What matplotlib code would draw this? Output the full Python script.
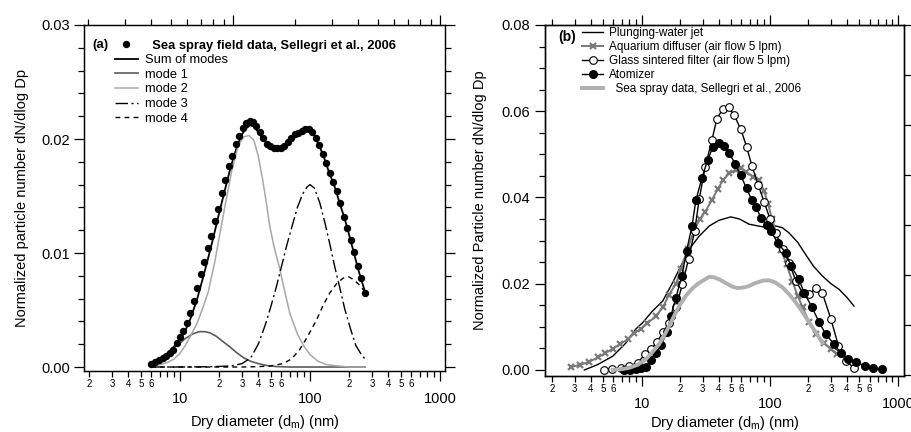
import numpy as np
import matplotlib
matplotlib.use("Agg")
import matplotlib.pyplot as plt
from matplotlib.ticker import FixedLocator, FuncFormatter, MultipleLocator, LogLocator, NullFormatter

plt.rcParams['font.family'] = ['Liberation Sans', 'DejaVu Sans']
plt.rcParams['mathtext.fontset'] = 'custom'
plt.rcParams['mathtext.rm'] = 'Liberation Sans'
plt.rcParams['mathtext.it'] = 'Liberation Sans:italic'

# ---- panel (a): field data and fitted modes ----
field_d = [5.98, 6.42, 6.89, 7.40, 7.80, 8.38, 8.84, 9.48, 10.0, 10.55,
           11.32, 11.94, 12.82, 13.51, 14.51, 15.30, 16.43, 17.32, 18.59, 19.60,
           21.04, 22.19, 23.82, 25.12, 26.97, 28.44, 30.52, 32.19, 34.56, 36.44,
           38.42, 41.25, 43.50, 46.70, 49.24, 52.86, 55.75, 59.84, 63.10, 67.74,
           71.43, 76.67, 80.85, 86.79, 91.53, 98.24, 103.6, 111.2, 117.3, 125.9,
           132.8, 142.5, 150.3, 161.4, 170.1, 182.6, 192.6, 206.8, 218.1, 234.0,
           246.8, 264.9]
field_v = [0.0003, 0.00045, 0.0006, 0.0008, 0.0010, 0.0012, 0.0015, 0.0021, 0.0026, 0.0032,
           0.0039, 0.0047, 0.0058, 0.0069, 0.0082, 0.0092, 0.0104, 0.0115, 0.0128, 0.0139,
           0.0153, 0.0164, 0.0176, 0.0185, 0.0196, 0.0203, 0.0210, 0.0214, 0.0216, 0.0215,
           0.0211, 0.0206, 0.0201, 0.0196, 0.0194, 0.0192, 0.0192, 0.0192, 0.0194, 0.0197,
           0.0201, 0.0204, 0.0205, 0.0207, 0.0209, 0.0209, 0.0206, 0.0201, 0.0195, 0.0187,
           0.0179, 0.0170, 0.0162, 0.0154, 0.0144, 0.0132, 0.0122, 0.0111, 0.0101, 0.0089,
           0.0078, 0.0065]

sum_d = [6, 7, 8, 9, 10, 11, 12, 13.5, 15, 16.5, 18, 20, 22, 24, 26, 28, 30, 32, 34.5, 37,
         40, 44, 49, 55, 60, 67, 75, 83, 92, 100, 108, 118, 128, 140, 155, 170, 185, 200,
         220, 240, 265]
sum_v = [0.0003, 0.0007, 0.0012, 0.0018, 0.0024, 0.0032, 0.0042, 0.0059, 0.0078, 0.0096,
         0.0113, 0.0135, 0.0154, 0.0171, 0.0185, 0.0196, 0.0204, 0.0209, 0.0212, 0.0211,
         0.0206, 0.0199, 0.0194, 0.0191, 0.0191, 0.0195, 0.0201, 0.0205, 0.0207, 0.0207,
         0.0203, 0.0194, 0.0184, 0.0171, 0.0158, 0.0143, 0.0130, 0.0116, 0.0098, 0.0082,
         0.0066]

m1_d = [6, 7, 8, 9, 10, 11, 12.5, 14, 15.5, 17, 19, 21, 24, 27, 31, 35, 40, 47, 55, 70, 100, 150, 265]
m1_v = [0.0003, 0.0007, 0.0012, 0.0017, 0.0021, 0.0025, 0.0029, 0.0031, 0.0031, 0.0030,
        0.0027, 0.0023, 0.0018, 0.0013, 0.0008, 0.0005, 0.0003, 0.00012, 0.00004, 0.0,
        0.0, 0.0, 0.0]

m2_d = [6, 7, 8, 9, 10, 11, 12, 13.5, 15, 16.5, 18.5, 20.5, 22.5, 25, 28, 31, 34, 37, 40,
        43, 46, 49, 53, 58, 64, 70, 80, 90, 100, 115, 135, 160, 200, 265]
m2_v = [0.0001, 0.0002, 0.0004, 0.0007, 0.0012, 0.0019, 0.0027, 0.0038, 0.0052, 0.0066,
        0.0092, 0.0120, 0.0145, 0.0172, 0.0194, 0.0202, 0.0203, 0.0199, 0.0185, 0.0166,
        0.0145, 0.0124, 0.0105, 0.0088, 0.0066, 0.0047, 0.0029, 0.0018, 0.0011, 0.0005,
        0.0002, 0.0001, 0.0, 0.0]

m3_d = [6, 10, 15, 20, 25, 30, 35, 40, 45, 50, 55, 60, 66, 73, 80, 88, 95, 100, 108, 119,
        130, 142, 155, 170, 185, 203, 225, 245, 265]
m3_v = [0.0, 0.0, 0.00002, 0.00005, 0.0001, 0.0003, 0.0008, 0.0020, 0.0036, 0.0053,
        0.0070, 0.0087, 0.0106, 0.0124, 0.0140, 0.0152, 0.0158, 0.0160, 0.0157, 0.0144,
        0.0127, 0.0108, 0.0088, 0.0069, 0.0051, 0.0035, 0.0019, 0.0012, 0.0007]

m4_d = [6, 20, 30, 40, 50, 62, 72, 83, 95, 112, 125, 142, 160, 180, 200, 220, 240, 265]
m4_v = [0.0, 0.0, 0.0, 0.00003, 0.0001, 0.0003, 0.0007, 0.0015, 0.0026, 0.0041, 0.0053,
        0.0065, 0.0073, 0.0078, 0.0079, 0.0076, 0.0072, 0.0066]

# ---- panel (b): laboratory generators ----
jet_d = [3.57, 4.5, 5.95, 7.5, 9.0, 10.2, 12.0, 14.6, 17.4, 20.0, 23.5, 28.0, 33.7, 40.0,
         49.6, 58.0, 69.0, 87.7, 111, 125, 141, 165, 190, 220, 257, 300, 347, 400, 454]
jet_v = [0.0, 0.0012, 0.0032, 0.0062, 0.0095, 0.0110, 0.0135, 0.0160, 0.0202, 0.0238,
         0.0280, 0.0310, 0.0334, 0.0347, 0.0355, 0.0350, 0.0338, 0.0332, 0.0334, 0.0330,
         0.0318, 0.0296, 0.0268, 0.0240, 0.0218, 0.0200, 0.0187, 0.0168, 0.0148]

aq_d = [2.81, 3.31, 3.91, 4.54, 5.18, 5.94, 6.78, 7.78, 8.76, 9.88, 11.1, 12.9, 14.6, 16.4,
        18.5, 20.2, 22.8, 25.7, 28.5, 31.3, 35.3, 39.1, 43.3, 48.2, 54.3, 59.4, 65.0, 73.3,
        82.6, 90.3, 97, 104, 112, 122, 135, 150, 165, 180, 203, 228, 265, 299, 337]
aq_v = [0.0007, 0.0012, 0.0019, 0.0029, 0.0039, 0.0049, 0.0060, 0.0071, 0.0085, 0.0096,
        0.0108, 0.0125, 0.0145, 0.0175, 0.0200, 0.0233, 0.0280, 0.0325, 0.0350, 0.0367,
        0.0394, 0.0419, 0.0441, 0.0456, 0.0464, 0.0468, 0.0460, 0.0448, 0.0441, 0.0414,
        0.0385, 0.0350, 0.0318, 0.0278, 0.0245, 0.0205, 0.0172, 0.0145, 0.0111, 0.0083,
        0.0063, 0.0048, 0.0036]

gl_d = [5.11, 5.9, 6.9, 8.0, 9.3, 10.6, 11.8, 13.2, 14.6, 16.4, 18.5, 20.8, 23.2, 25.9,
        28.1, 31.3, 35.3, 38.6, 42.8, 47.6, 52.7, 59.4, 65.8, 72.4, 81.1, 90.3, 100, 111,
        126, 141, 160, 180, 203, 228, 257, 299, 343, 391, 454]
gl_v = [0.0, 0.0003, 0.0005, 0.0009, 0.0017, 0.0036, 0.0048, 0.0065, 0.0087, 0.0110,
        0.0145, 0.0199, 0.0257, 0.0322, 0.0396, 0.0471, 0.0533, 0.0582, 0.0605, 0.0609,
        0.0591, 0.0558, 0.0518, 0.0474, 0.0429, 0.0390, 0.0351, 0.0318, 0.0280, 0.0249,
        0.0206, 0.0179, 0.0176, 0.0189, 0.0178, 0.0119, 0.0056, 0.0021, 0.0005]

at_d = [7.32, 8.1, 9.03, 9.88, 10.8, 11.8, 12.9, 14.1, 15.7, 16.9, 18.5, 20.6, 22.4, 24.7,
        26.5, 29.5, 32.7, 36.1, 39.8, 44.0, 48.2, 53.7, 59.4, 65.8, 72.4, 77.8, 85.1, 94.2,
        102, 115, 133, 146, 168, 185, 212, 242, 273, 317, 357, 410, 468, 553, 643, 747]
at_v = [0.0, 0.0001, 0.0002, 0.0005, 0.0008, 0.0023, 0.0040, 0.0057, 0.0087, 0.0125,
        0.0168, 0.0218, 0.0276, 0.0334, 0.0394, 0.0445, 0.0487, 0.0518, 0.0526, 0.0519,
        0.0504, 0.0477, 0.0451, 0.0421, 0.0394, 0.0379, 0.0353, 0.0336, 0.0322, 0.0295,
        0.0272, 0.0241, 0.0212, 0.0179, 0.0147, 0.0111, 0.0083, 0.0060, 0.0040, 0.0026,
        0.0019, 0.0009, 0.0005, 0.0002]

ss_d = [5.95, 7.0, 8.0, 9.3, 10.8, 12.0, 13.7, 15.5, 17.4, 19.5, 22.1, 25.0, 28.1, 33.7,
        36.5, 40.3, 45, 51.2, 56, 61.2, 68, 77.8, 88, 98.8, 110, 126, 142, 160, 180, 203,
        230, 257]
ss_v = [0.0, 0.0002, 0.0005, 0.0012, 0.0025, 0.0040, 0.0060, 0.0088, 0.0118, 0.0147,
        0.0172, 0.0190, 0.0202, 0.0216, 0.0215, 0.0210, 0.0202, 0.0193, 0.0190, 0.0191,
        0.0194, 0.0202, 0.0207, 0.0208, 0.0203, 0.0191, 0.0175, 0.0156, 0.0134, 0.0110,
        0.0086, 0.0063]

xlabel = 'Dry diameter (d$_\\mathrm{m}$) (nm)'


def minor_label(x, pos):
    e = np.floor(np.log10(x) + 1e-9)
    m = int(round(x / 10 ** e))
    return str(m) if 2 <= m <= 6 else ''


def style_xaxis(ax, xlim):
    ax.set_xscale('log')
    ax.set_xlim(*xlim)
    ax.xaxis.set_major_locator(FixedLocator([10, 100, 1000]))
    ax.xaxis.set_major_formatter(FuncFormatter(lambda x, p: '%d' % x))
    ax.xaxis.set_minor_locator(LogLocator(base=10, subs=np.arange(2, 10), numticks=20))
    ax.xaxis.set_minor_formatter(FuncFormatter(minor_label))
    ax.tick_params(axis='x', which='major', direction='out', length=7, width=0.9,
                   labelsize=10.5, pad=8, top=False)
    ax.tick_params(axis='x', which='minor', direction='out', length=4.5, width=0.9,
                   labelsize=7, pad=1.5, top=False)


fig = plt.figure(figsize=(9.12, 4.32), dpi=100)

# ================= panel (a) =================
ax1 = fig.add_axes([84 / 912, 61 / 432, 361 / 912, 346 / 432])
ax1.plot(field_d, field_v, 'o', color='black', ms=4.3, zorder=3,
         label='  Sea spray field data, Sellegri et al., 2006')
ax1.plot(sum_d, sum_v, '-', color='black', lw=1.3, label='Sum of modes')
ax1.plot(m1_d, m1_v, '-', color='#5c5c5c', lw=1.2, label='mode 1')
ax1.plot(m2_d, m2_v, '-', color='#a8a8a8', lw=1.1, label='mode 2')
ax1.plot(m3_d, m3_v, color='black', lw=1.0, dashes=(9, 2.5, 1.5, 2.5), label='mode 3')
ax1.plot(m4_d, m4_v, color='black', lw=1.0, dashes=(3.5, 3), label='mode 4')

style_xaxis(ax1, (1.826, 1093))
ax1.set_ylim(-0.00035, 0.03)
ax1.yaxis.set_major_locator(MultipleLocator(0.01))
ax1.yaxis.set_minor_locator(MultipleLocator(0.002))
ax1.yaxis.set_major_formatter(FuncFormatter(lambda y, p: '%.2f' % y))
ax1.tick_params(axis='y', which='major', direction='out', length=7, width=0.9,
                labelsize=10.5, pad=3, right=True)
ax1.tick_params(axis='y', which='minor', direction='out', length=4.5, width=0.9, right=True)
ax1.set_xlabel(xlabel, fontsize=10.5, labelpad=5)
ax1.set_ylabel('Normalized particle number dN/dlog Dp', fontsize=10.5, labelpad=9)

# top axis on its own log scale
ax1t = ax1.twiny()
ax1t.set_xscale('log')
ax1t.set_xlim(1.91, 105.4)
ax1t.xaxis.set_major_locator(FixedLocator([10, 100]))
ax1t.xaxis.set_minor_locator(LogLocator(base=10, subs=np.arange(2, 10), numticks=20))
ax1t.xaxis.set_major_formatter(NullFormatter())
ax1t.xaxis.set_minor_formatter(NullFormatter())
ax1t.tick_params(axis='x', which='major', direction='out', length=7, width=0.9)
ax1t.tick_params(axis='x', which='minor', direction='out', length=4.5, width=0.9)

leg1 = ax1.legend(loc='upper left', bbox_to_anchor=(0.086, 0.958), frameon=False,
                  fontsize=9.3, handlelength=1.75, handletextpad=0.55, labelspacing=0.2,
                  borderaxespad=0, borderpad=0, numpoints=1)
leg1.get_texts()[0].set_fontweight('bold')
ax1.text(0.022, 0.942, '(a)', transform=ax1.transAxes, fontsize=9.5, fontweight='bold',
         va='center', ha='left')

# ================= panel (b) =================
ax2 = fig.add_axes([545 / 912, 56 / 432, 359 / 912, 351 / 432])
ax2.plot(jet_d, jet_v, '-', color='black', lw=1.0, label='Plunging-water jet')
ax2.plot(aq_d, aq_v, '-x', color='#7a7a7a', lw=1.4, ms=4.5, mew=1.6,
         label='Aquarium diffuser (air flow 5 lpm)')
ax2.plot(gl_d, gl_v, '-o', color='black', lw=1.0, ms=5.5, mew=0.8, mfc='white',
         label='Glass sintered filter (air flow 5 lpm)')
ax2.plot(at_d, at_v, '-o', color='black', lw=1.0, ms=5.5, label='Atomizer')
ax2.plot(ss_d, ss_v, '-', color='#b0b0b0', lw=2.8,
         label='  Sea spray data, Sellegri et al., 2006')

style_xaxis(ax2, (1.76, 1114))
ax2.set_ylim(-0.0014, 0.08)
ax2.yaxis.set_major_locator(MultipleLocator(0.02))
ax2.yaxis.set_minor_locator(MultipleLocator(0.005))
ax2.yaxis.set_major_formatter(FuncFormatter(lambda y, p: '%.2f' % y))
ax2.tick_params(axis='y', which='major', direction='out', length=7, width=0.9,
                labelsize=10.5, pad=4, right=False)
ax2.tick_params(axis='y', which='minor', direction='out', length=4.5, width=0.9, right=False)
ax2.set_xlabel(xlabel, fontsize=10.5, labelpad=2)
ax2.set_ylabel('Normalized Particle number dN/dlog Dp', fontsize=10.5, labelpad=10)

ax2t = ax2.twiny()
ax2t.set_xscale('log')
ax2t.set_xlim(1.76, 1114)
ax2t.xaxis.set_major_locator(FixedLocator([10, 100, 1000]))
ax2t.xaxis.set_minor_locator(LogLocator(base=10, subs=np.arange(2, 10), numticks=20))
ax2t.xaxis.set_major_formatter(NullFormatter())
ax2t.xaxis.set_minor_formatter(NullFormatter())
ax2t.tick_params(axis='x', which='major', direction='out', length=7, width=0.9)
ax2t.tick_params(axis='x', which='minor', direction='out', length=4.5, width=0.9)

# right axis on its own linear scale, ticks only
ax2r = ax2.twinx()
ax2r.set_ylim(-51, 300)
ax2r.yaxis.set_major_locator(MultipleLocator(50))
ax2r.yaxis.set_major_formatter(NullFormatter())
ax2r.tick_params(axis='y', direction='out', length=7, width=0.9)

leg2 = ax2.legend(loc='upper left', bbox_to_anchor=(0.103, 0.995), frameon=False,
                  fontsize=8.5, handlelength=1.8, handletextpad=0.5, labelspacing=0.17,
                  borderaxespad=0, borderpad=0, numpoints=1)
ax2.text(0.036, 0.966, '(b)', transform=ax2.transAxes, fontsize=10, fontweight='bold',
         va='center', ha='left')

for a in (ax1, ax1t, ax2, ax2t, ax2r):
    for s in a.spines.values():
        s.set_linewidth(0.9)

fig.savefig('out.png', dpi=100)
